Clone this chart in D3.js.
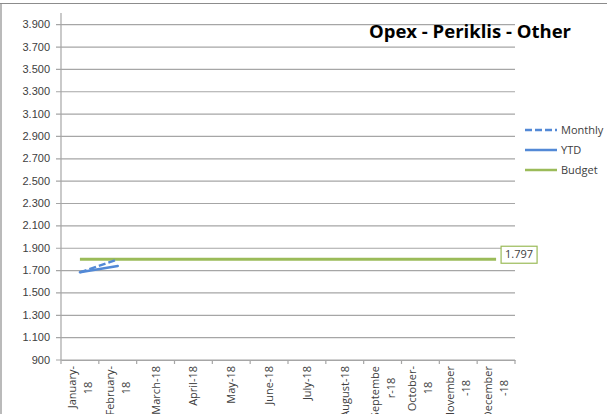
<!DOCTYPE html>
<html>
<head>
<meta charset="utf-8">
<script src="https://cdn.jsdelivr.net/npm/d3@7"></script>
<style>
  html, body { margin: 0; padding: 0; background: #fff; }
  svg { display: block; font-family: "Open Sans", "Liberation Sans", sans-serif; }
</style>
</head>
<body>
<svg id="chart" width="607" height="414"></svg>
<script>
// Months of 2018, split into the two lines shown under each tick
const months = [
  ["January-", "18"], ["February-", "18"], ["March-18"], ["April-18"],
  ["May-18"], ["June-18"], ["July-18"], ["August-18"],
  ["Septembe", "r-18"], ["October-", "18"], ["November", "-18"], ["December", "-18"]
];
const monthly = [1680, 1795];           // actual monthly spend
const ytd = [1680, 1737];               // year-to-date average
const budget = Array(12).fill(1797);    // flat budget line
const yTicks = d3.range(900, 4000, 200);
const yDomain = [900, 4000];

const euro = d3.formatLocale({ decimal: ",", thousands: ".", grouping: [3], currency: ["", ""] });
const fmt = euro.format(",.0f");

const svg = d3.select("#chart");
const m = { left: 61, right: 515, top: 13, bottom: 360 };

const x = d3.scaleBand().domain(d3.range(12)).range([m.left, m.right]).padding(0);
const y = d3.scaleLinear().domain(yDomain).range([m.bottom - 0.5, m.top]);
const cx = i => x(i) + x.bandwidth() / 2;

// outer frame
svg.append("line").attr("x1", 0).attr("x2", 607).attr("y1", 3.5).attr("y2", 3.5)
  .attr("stroke", "#8c8c8c").attr("stroke-width", 1.2);
svg.append("line").attr("x1", 1).attr("x2", 1).attr("y1", 3).attr("y2", 414)
  .attr("stroke", "#8c8c8c").attr("stroke-width", 1.2);

// horizontal gridlines + y axis labels
const yAxis = d3.axisLeft(y).tickValues(yTicks).tickFormat(fmt)
  .tickSize(-(m.right - m.left)).tickPadding(6);
const gy = svg.append("g").attr("transform", `translate(${m.left},0)`).call(yAxis);
gy.select(".domain").remove();
gy.selectAll(".tick line").attr("stroke", "#a6a6a6").attr("stroke-width", 1.2)
  .attr("x1", -5);
gy.selectAll(".tick text").attr("fill", "#404040").style("font-size", "11px")
  .attr("x", -11);

// vertical axis line
svg.append("line").attr("x1", m.left).attr("x2", m.left).attr("y1", m.top).attr("y2", m.bottom)
  .attr("stroke", "#a6a6a6").attr("stroke-width", 1.2);

// category axis
const xAxis = d3.axisBottom(x).tickFormat("").tickSize(0);
const gx = svg.append("g").attr("transform", `translate(0,${m.bottom})`).call(xAxis);
gx.select(".domain").attr("stroke", "#a6a6a6").attr("stroke-width", 1.2);
gx.selectAll(".tick").remove();
const bounds = d3.range(13).map(i => m.left + i * x.bandwidth());
svg.append("g").selectAll("line").data(bounds).join("line")
  .attr("x1", d => d).attr("x2", d => d)
  .attr("y1", m.bottom).attr("y2", m.bottom + 4)
  .attr("stroke", "#a6a6a6").attr("stroke-width", 1.2);

// rotated month labels
const lab = svg.append("g");
months.forEach((lines, i) => {
  const n = lines.length;
  lines.forEach((t, j) => {
    const off = n === 1 ? 4 : (j === 0 ? -4 : 12);
    const px = cx(i) + off;
    lab.append("text")
      .attr("transform", `translate(${px},${m.bottom + 6}) rotate(-90)`)
      .attr("text-anchor", n === 1 || j === 0 ? "end" : "middle")
      .attr("dx", n === 1 || j === 0 ? 0 : -22)
      .attr("fill", "#404040")
      .style("font-size", "11px")
      .text(t);
  });
});

// series
const line = d3.line().x((d, i) => cx(i)).y(d => y(d));

svg.append("path").datum(budget).attr("d", line)
  .attr("fill", "none").attr("stroke", "#9bbb59").attr("stroke-width", 3);

svg.append("path").datum(ytd).attr("d", line)
  .attr("fill", "none").attr("stroke", "#5389d6").attr("stroke-width", 2.5)
  .attr("stroke-linecap", "round");

svg.append("path").datum(monthly).attr("d", line)
  .attr("fill", "none").attr("stroke", "#5389d6").attr("stroke-width", 2.5)
  .attr("stroke-dasharray", "7,3");

// budget value label at the last point
const lastI = budget.length - 1;
const bx = cx(lastI) + 5, by = y(budget[lastI]);
svg.append("rect").attr("x", bx).attr("y", by - 13).attr("width", 36).attr("height", 17)
  .attr("fill", "#fff").attr("stroke", "#9bbb59").attr("stroke-width", 1.2);
svg.append("text").attr("x", bx + 18).attr("y", by - 1).attr("text-anchor", "middle")
  .attr("fill", "#404040").style("font-size", "11px").text(fmt(budget[lastI]));

// title
svg.append("text").attr("x", 369).attr("y", 38)
  .style("font-size", "18.5px").style("font-weight", "bold").attr("fill", "#000")
  .text("Opex - Periklis - Other");

// legend
const legend = [
  { name: "Monthly", color: "#5389d6", dash: "7,3" },
  { name: "YTD", color: "#5389d6", dash: null },
  { name: "Budget", color: "#9bbb59", dash: null }
];
const lg = svg.append("g").attr("transform", "translate(525,130)");
legend.forEach((d, i) => {
  const g = lg.append("g").attr("transform", `translate(0,${i * 20})`);
  g.append("line").attr("x1", 0).attr("x2", 32).attr("y1", 0).attr("y2", 0)
    .attr("stroke", d.color).attr("stroke-width", 2.5)
    .attr("stroke-dasharray", d.dash);
  g.append("text").attr("x", 36).attr("y", 4).attr("fill", "#404040")
    .style("font-size", "11px").text(d.name);
});
</script>
</body>
</html>
